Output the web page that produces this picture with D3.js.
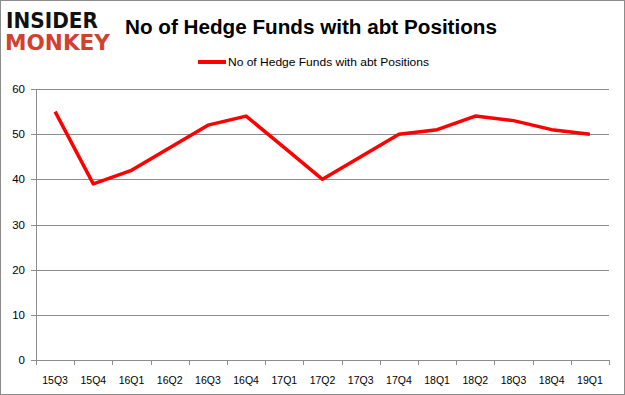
<!DOCTYPE html>
<html>
<head>
<meta charset="utf-8">
<script src="https://cdnjs.cloudflare.com/ajax/libs/d3/7.8.5/d3.min.js"></script>
<style>
  body { margin: 0; background: #fff; }
  svg { display: block; font-family: "Liberation Sans", Arial, sans-serif; }
</style>
</head>
<body>
<div id="chart"></div>
<script>
var quarters = ["15Q3","15Q4","16Q1","16Q2","16Q3","16Q4","17Q1","17Q2","17Q3","17Q4","18Q1","18Q2","18Q3","18Q4","19Q1"];
var funds = [55, 39, 42, 47, 52, 54, 47, 40, 45, 50, 51, 54, 53, 51, 50];
var yTicks = [0, 10, 20, 30, 40, 50, 60];
var seriesName = "No of Hedge Funds with abt Positions";

var fullwidth = 625, fullheight = 395;
var margin = {top: 89, right: 16, bottom: 35, left: 36};
var width = fullwidth - margin.left - margin.right;
var height = fullheight - margin.top - margin.bottom;

var vis = d3.select("#chart").append("svg")
    .attr("width", fullwidth)
    .attr("height", fullheight);

// outer frame
vis.append("rect")
    .attr("x", 0.5).attr("y", 0.5)
    .attr("width", fullwidth - 1).attr("height", fullheight - 1)
    .attr("fill", "#fff").attr("stroke", "#8c8c8c");

// logo
vis.append("text").attr("x", 6).attr("y", 28)
    .attr("font-family", "DejaVu Sans").attr("font-weight", "bold")
    .attr("font-size", 21).attr("textLength", 92).attr("lengthAdjust", "spacingAndGlyphs")
    .attr("fill", "#111").text("INSIDER");
vis.append("text").attr("x", 5).attr("y", 50)
    .attr("font-family", "DejaVu Sans").attr("font-weight", "bold")
    .attr("font-size", 21).attr("textLength", 105).attr("lengthAdjust", "spacingAndGlyphs")
    .attr("fill", "#d2402f").text("MONKEY");

// title
vis.append("text")
    .attr("x", 311).attr("y", 34)
    .attr("text-anchor", "middle")
    .attr("font-size", 20).attr("font-weight", "bold")
    .attr("textLength", 372).attr("lengthAdjust", "spacingAndGlyphs")
    .attr("fill", "#000")
    .text("No of Hedge Funds with abt Positions");

// legend
vis.append("line")
    .attr("x1", 198).attr("x2", 226).attr("y1", 62).attr("y2", 62)
    .attr("stroke", "#ff0000").attr("stroke-width", 4);
vis.append("text")
    .attr("x", 228).attr("y", 66)
    .attr("font-size", 11.5).attr("fill", "#000")
    .attr("textLength", 201).attr("lengthAdjust", "spacingAndGlyphs")
    .text(seriesName);

var svg = vis.append("g")
    .attr("transform", "translate(" + margin.left + "," + margin.top + ")");

var xScale = d3.scaleBand().domain(quarters).range([0, width]);
var yScale = d3.scaleLinear().domain([0, 60]).range([height, 0]);

// gridlines
svg.selectAll("line.grid")
    .data(yTicks)
    .enter().append("line")
    .attr("class", "grid")
    .attr("x1", -5).attr("x2", width)
    .attr("y1", function(d) { return Math.round(yScale(d)) + 0.5; })
    .attr("y2", function(d) { return Math.round(yScale(d)) + 0.5; })
    .attr("stroke", "#8c8c8c").attr("stroke-width", 1);

// y axis
svg.append("line")
    .attr("x1", 0.5).attr("x2", 0.5).attr("y1", 0).attr("y2", height)
    .attr("stroke", "#8c8c8c");
svg.selectAll("text.ylab")
    .data(yTicks)
    .enter().append("text")
    .attr("class", "ylab")
    .attr("x", -11)
    .attr("y", function(d) { return yScale(d); })
    .attr("dy", "0.35em")
    .attr("text-anchor", "end")
    .attr("font-size", 11.5).attr("fill", "#000")
    .text(function(d) { return d; });

// x axis ticks
var bounds = quarters.map(function(q) { return xScale(q); }).concat([width]);
svg.selectAll("line.xtick")
    .data(bounds)
    .enter().append("line")
    .attr("class", "xtick")
    .attr("x1", function(d) { return Math.round(d) + 0.5; })
    .attr("x2", function(d) { return Math.round(d) + 0.5; })
    .attr("y1", height).attr("y2", height + 5)
    .attr("stroke", "#8c8c8c");
svg.selectAll("text.xlab")
    .data(quarters)
    .enter().append("text")
    .attr("class", "xlab")
    .attr("x", function(d) { return xScale(d) + xScale.bandwidth() / 2; })
    .attr("y", height + 24)
    .attr("text-anchor", "middle")
    .attr("font-size", 10.5).attr("fill", "#000")
    .text(function(d) { return d; });

// line
var line = d3.line()
    .x(function(d, i) { return xScale(quarters[i]) + xScale.bandwidth() / 2; })
    .y(function(d) { return yScale(d); });
svg.append("path")
    .datum(funds)
    .attr("d", line)
    .attr("fill", "none")
    .attr("stroke", "#ff0000")
    .attr("stroke-width", 3.5)
    .attr("stroke-linejoin", "round");
</script>
</body>
</html>
